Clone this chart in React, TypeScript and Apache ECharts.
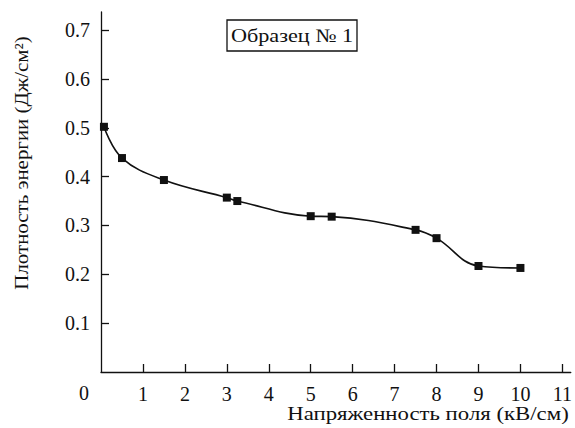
import React, { useEffect, useRef } from "react";
import * as echarts from "echarts";

const fieldStrength = [0.07, 0.5, 1.5, 3.0, 3.25, 5.0, 5.5, 7.5, 8.0, 9.0, 10.0];
const energyDensity = [0.502, 0.438, 0.393, 0.357, 0.35, 0.319, 0.318, 0.291, 0.274, 0.217, 0.213];
const xTicks = [1, 2, 3, 4, 5, 6, 7, 8, 9, 10, 11];
const yTicks = [0.1, 0.2, 0.3, 0.4, 0.5, 0.6, 0.7];
const sampleLabel = "Образец № 1";
const xTitle = "Напряженность поля (кВ/см)";
const yTitle = "Плотность энергии (Дж/см²)";

const FONT = "'Liberation Serif', 'Times New Roman', serif";

export default function App() {
  const ref = useRef<HTMLDivElement>(null);
  useEffect(() => {
    if (!ref.current) return;
    const chart = echarts.init(ref.current, null, { renderer: "svg" });
    const data = fieldStrength.map((x, i) => [x, energyDensity[i]]);
    chart.setOption({
      animation: false,
      backgroundColor: "#ffffff",
      grid: { left: 101, top: 12, right: 1, bottom: 56, containLabel: false },
      xAxis: {
        type: "value",
        min: 0,
        max: 11.2,
        interval: 1,
        splitLine: { show: false },
        axisLine: { show: true, onZero: false, lineStyle: { color: "#111", width: 1.3 } },
        axisTick: { show: true, inside: true, length: 8, lineStyle: { color: "#111", width: 1.3 }, customValues: xTicks },
        axisLabel: {
          show: true,
          customValues: xTicks,
          margin: 12,
          color: "#111",
          fontSize: 20,
          fontFamily: FONT,
        },
      },
      yAxis: {
        type: "value",
        min: 0,
        max: 0.737,
        interval: 0.1,
        splitLine: { show: false },
        axisLine: { show: true, onZero: false, lineStyle: { color: "#111", width: 1.3 } },
        axisTick: { show: true, inside: true, length: 8, lineStyle: { color: "#111", width: 1.3 }, customValues: yTicks },
        axisLabel: {
          show: true,
          customValues: yTicks,
          margin: 11,
          color: "#111",
          fontSize: 20,
          fontFamily: FONT,
          formatter: (v: number) => v.toFixed(1),
        },
      },
      series: [
        {
          type: "line",
          data,
          smooth: 0.4,
          symbol: "rect",
          symbolSize: 8,
          showSymbol: true,
          lineStyle: { color: "#111", width: 1.6 },
          itemStyle: { color: "#111" },
        },
      ],
      graphic: [
        {
          type: "text",
          x: 84,
          y: 393,
          style: { text: "0", font: `20px ${FONT}`, fill: "#111", textAlign: "center", textVerticalAlign: "middle" },
        },
        {
          type: "text",
          x: 428,
          y: 414,
          scaleX: 1.2,
          style: { text: xTitle, font: `19px ${FONT}`, fill: "#111", textAlign: "center", textVerticalAlign: "middle" },
        },
        {
          type: "text",
          x: 21,
          y: 163,
          rotation: Math.PI / 2,
          scaleX: 1.1,
          style: { text: yTitle, font: `19px ${FONT}`, fill: "#111", textAlign: "center", textVerticalAlign: "middle" },
        },
        {
          type: "rect",
          shape: { x: 227, y: 20, width: 130, height: 31 },
          style: { fill: "#fff", stroke: "#111", lineWidth: 1.3 },
        },
        {
          type: "text",
          x: 292,
          y: 36,
          scaleX: 1.17,
          style: { text: sampleLabel, font: `19px ${FONT}`, fill: "#111", textAlign: "center", textVerticalAlign: "middle" },
        },
      ],
    });
    return () => chart.dispose();
  }, []);
  return <div ref={ref} style={{ position: "absolute", left: 0, top: 0, width: 575, height: 428 }} />;
}
